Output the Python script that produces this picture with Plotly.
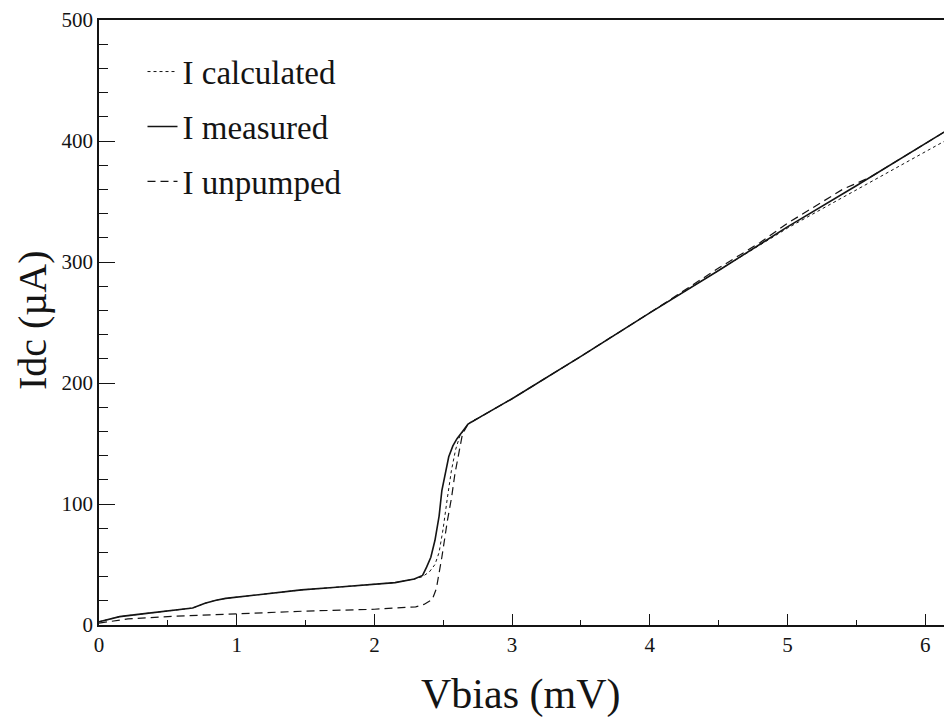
import plotly.graph_objects as go

# ---- data ----
measured_x = [0, 0.15, 0.3, 0.46, 0.6, 0.68, 0.77, 0.85, 0.92, 1.0, 1.2, 1.47, 1.7, 1.95, 2.15, 2.29,
              2.35, 2.38, 2.41, 2.44, 2.47, 2.49, 2.52, 2.54, 2.57, 2.6, 2.64, 2.68, 2.77,
              3.0, 3.5, 4.0, 4.5, 5.0, 5.5, 6.0, 6.19]
measured_y = [2.7, 6.9, 9, 11, 13, 14, 18, 20.5, 22, 23, 25.5, 29, 31, 33, 35, 38,
              41, 48, 56, 70, 90, 111, 128, 139, 148, 154, 160, 166, 172,
              187, 222, 258, 293, 329, 363, 398, 411]

calculated_x = [0, 0.15, 0.3, 0.46, 0.6, 0.68, 0.77, 0.85, 0.92, 1.0, 1.2, 1.47, 1.7, 1.95, 2.15, 2.29,
                2.35, 2.4, 2.44, 2.47, 2.5, 2.53, 2.56, 2.59, 2.62, 2.66, 2.7, 2.77,
                3.0, 3.5, 4.0, 4.5, 5.0, 5.3, 5.6, 6.0, 6.19]
calculated_y = [2.7, 6.9, 9, 11, 13, 14, 18, 20.5, 22, 23, 25.5, 29, 31, 33, 35, 38,
                40, 44, 50, 60, 80, 105, 128, 145, 156, 163, 168, 172,
                187, 222, 258, 293, 328, 347, 366, 391, 403]

unpumped_x = [0, 0.21, 0.5, 0.94, 1.11, 1.5, 2.0, 2.2, 2.3, 2.36, 2.42, 2.45, 2.49, 2.53, 2.56,
              2.585, 2.61, 2.64, 2.68, 2.77, 3.0, 3.5, 4.0, 4.5, 4.8, 5.0, 5.2, 5.4, 5.6, 6.0, 6.19]
unpumped_y = [1.6, 5, 7, 9, 10, 11.5, 13, 14, 15, 17, 21, 30, 56, 86, 105,
              125, 139, 158, 166, 172, 187, 222, 258, 295, 316, 332, 346, 360, 370, 398, 411]

x_ticks = [0, 1, 2, 3, 4, 5, 6]
y_ticks = [0, 100, 200, 300, 400, 500]

ink = "#141414"
serif = "Liberation Serif, Times New Roman, serif"

fig = go.Figure()
fig.add_trace(go.Scatter(x=calculated_x, y=calculated_y, mode="lines", name="I calculated",
                         legendgroup="a", line=dict(color=ink, width=1, dash="dot")))
fig.add_trace(go.Scatter(x=measured_x, y=measured_y, mode="lines", name="I measured",
                         legendgroup="b", line=dict(color=ink, width=1.6)))
fig.add_trace(go.Scatter(x=unpumped_x, y=unpumped_y, mode="lines", name="I unpumped",
                         legendgroup="c", line=dict(color=ink, width=1.2, dash="8px,5px")))

# the page body adds an 8px offset, so the figure is 8px smaller and margins shifted
fig.update_layout(
    width=944, height=717,
    margin=dict(l=91, r=0, t=12, b=100, autoexpand=False),
    paper_bgcolor="white", plot_bgcolor="white",
    font=dict(family=serif, color=ink),
    showlegend=True,
    legend=dict(x=0.051, y=0.961, xanchor="left", yanchor="top",
                bgcolor="rgba(0,0,0,0)", font=dict(size=33, family=serif, color=ink),
                tracegroupgap=9, itemwidth=30, traceorder="grouped"),
    xaxis=dict(range=[0, 6.195], tickvals=x_ticks, ticktext=[str(v) for v in x_ticks],
               automargin=False,
               showgrid=False, zeroline=False, showline=True, linecolor=ink, linewidth=1.5,
               mirror=True, ticks="inside", ticklen=11, tickwidth=1, tickcolor=ink,
               tickfont=dict(size=21, family=serif, color=ink),
               minor=dict(dtick=0.5, ticks="inside", ticklen=5, tickcolor=ink, tickwidth=1)),
    yaxis=dict(range=[0, 500], tickvals=y_ticks, ticktext=[str(v) for v in y_ticks],
               automargin=False,
               showgrid=False, zeroline=False, showline=True, linecolor=ink, linewidth=1.5,
               ticks="inside", ticklen=16, tickwidth=1, tickcolor=ink,
               tickfont=dict(size=21, family=serif, color=ink),
               minor=dict(dtick=20, ticks="inside", ticklen=9, tickcolor=ink, tickwidth=1)),
)

fig.add_annotation(text="Vbias (mV)", xref="paper", yref="paper", x=0.494, y=-0.115,
                   xanchor="center", yanchor="middle", showarrow=False,
                   font=dict(size=42, family=serif, color=ink))
fig.add_annotation(text="Idc (µA)", xref="paper", yref="paper", x=-0.0785, y=0.504,
                   xanchor="center", yanchor="middle", showarrow=False, textangle=-90,
                   font=dict(size=40, family=serif, color=ink))

fig.write_html("out.html")
